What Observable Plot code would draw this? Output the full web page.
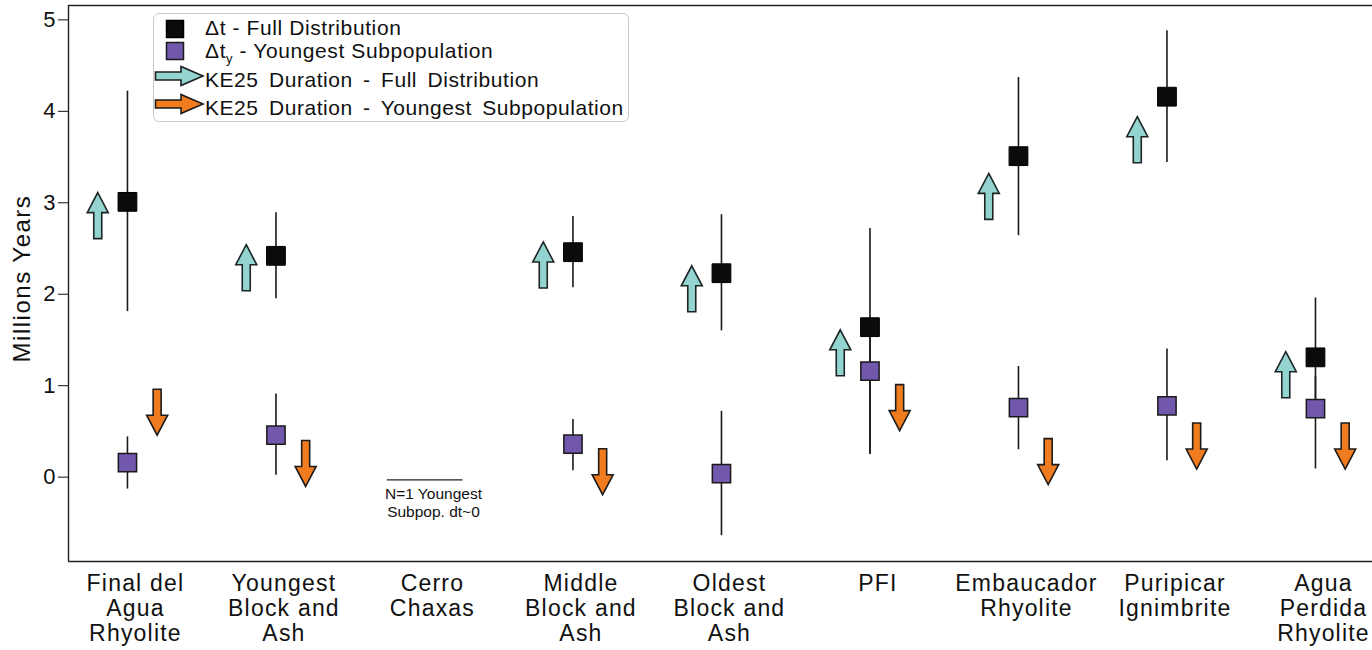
<!DOCTYPE html>
<html>
<head>
<meta charset="utf-8">
<script src="https://cdn.jsdelivr.net/npm/d3@7"></script>
<script src="https://cdn.jsdelivr.net/npm/@observablehq/plot@0.6"></script>
<style>
  html, body { margin: 0; padding: 0; background: #fff; }
  body { font-family: "Liberation Sans", Arial, sans-serif; }
  #wrap { position: relative; width: 1372px; height: 650px; overflow: hidden; }
  #legend { position: absolute; left: 153px; top: 13px; width: 476px; height: 109px;
            border: 1.5px solid #c9c9c9; border-radius: 6px; background: #fff; box-sizing: border-box; }
  #legend .ic { position: absolute; }
  #legend .tx { position: absolute; left: 51px; font-size: 21px; line-height: 21px; white-space: nowrap;
                color: #111; letter-spacing: 0.6px; }
  #legend .wide { word-spacing: 4px; letter-spacing: 0.55px; }
  #legend sub { font-size: 13px; vertical-align: -5px; line-height: 0; }
</style>
</head>
<body>
<div id="wrap">
  <div id="chart"></div>
  <div id="legend"></div>
</div>
<script>
// ---------------- data ----------------
const categories = ["Final del\nAgua\nRhyolite", "Youngest\nBlock and\nAsh", "Cerro\nChaxas",
  "Middle\nBlock and\nAsh", "Oldest\nBlock and\nAsh", "PFI", "Embaucador\nRhyolite",
  "Puripicar\nIgnimbrite", "Agua\nPerdida\nRhyolite"];
const fullDt    = [3.01, 2.42, null, 2.46, 2.23, 1.64, 3.51, 4.16, 1.31];
const fullLow   = [1.81, 1.95, null, 2.07, 1.60, 0.25, 2.64, 3.44, 0.66];
const fullHigh  = [4.22, 2.89, null, 2.85, 2.87, 2.72, 4.37, 4.88, 1.96];
const youngDt   = [0.16, 0.46, null, 0.36, 0.04, 1.16, 0.76, 0.78, 0.75];
const youngLow  = [-0.13, 0.02, null, 0.07, -0.64, 0.25, 0.30, 0.18, 0.09];
const youngHigh = [0.44, 0.91, null, 0.63, 0.72, 1.60, 1.21, 1.40, 1.10];
const ke25Full  = [2.86, 2.29, null, 2.32, 2.06, 1.36, 3.07, 3.69, 1.12];
const ke25Young = [0.71, 0.15, null, 0.06, null, 0.76, 0.17, 0.34, 0.34];
const singleGrain = [{category: 2, value: -0.03, note: "N=1 Youngest\nSubpop. dt~0"}];
const yTicks = [0, 1, 2, 3, 4, 5];
const yLabel = "Millions Years";
const legendLabels = ["Δt - Full Distribution", "Δt<sub>y</sub> - Youngest Subpopulation",
  "KE25 Duration - Full Distribution", "KE25 Duration - Youngest Subpopulation"];

// ---------------- styling / layout ----------------
const colFull = "#0b0b0b", colYoung = "#7258ad", colCyan = "#93d4d1", colOrange = "#f07c1f";
const xDomain = [-0.397, 8.384];
const yDomain = [-0.922, 5.157];
const idx = categories.map((_, i) => i);
const off = 0.2;

const upArrow = { draw(c) {
  c.moveTo(0, -23); c.lineTo(10.5, -3); c.lineTo(4, -3); c.lineTo(4, 23);
  c.lineTo(-4, 23); c.lineTo(-4, -3); c.lineTo(-10.5, -3); c.closePath(); } };
const downArrow = { draw(c) {
  c.moveTo(0, 23); c.lineTo(10.5, 3); c.lineTo(4, 3); c.lineTo(4, -23);
  c.lineTo(-4, -23); c.lineTo(-4, 3); c.lineTo(-10.5, 3); c.closePath(); } };

const errRows = [];
idx.forEach(i => {
  if (fullDt[i] != null) errRows.push({i, lo: fullLow[i], hi: fullHigh[i]});
  if (youngDt[i] != null) errRows.push({i, lo: youngLow[i], hi: youngHigh[i]});
});

const chart = Plot.plot({
  width: 1372, height: 650,
  marginLeft: 68, marginRight: 0, marginTop: 5, marginBottom: 89,
  style: {fontFamily: "'Liberation Sans', Arial, sans-serif", fontSize: "22px", color: "#111", background: "#fff", overflow: "visible"},
  x: {type: "linear", domain: xDomain, axis: null},
  y: {domain: yDomain, ticks: yTicks, tickSize: 10, tickPadding: 3, label: null, tickFormat: d => d},
  marks: [
    // frame (left, top, bottom)
    Plot.ruleX([xDomain[0]], {stroke: "#222", strokeWidth: 1.4}),
    Plot.ruleY([yDomain[0], yDomain[1]], {stroke: "#222", strokeWidth: 1.4}),
    // error bars
    Plot.ruleX(errRows, {x: "i", y1: "lo", y2: "hi", stroke: "#1a1a1a", strokeWidth: 1.6}),
    // KE25 arrows
    Plot.dot(idx, {x: i => i - off, y: i => ke25Full[i], symbol: upArrow, r: 10,
      fill: colCyan, stroke: "#1c2424", strokeWidth: 1.6, strokeLinejoin: "miter"}),
    Plot.dot(idx, {x: i => i + off, y: i => ke25Young[i], symbol: downArrow, r: 10,
      fill: colOrange, stroke: "#1c1c1c", strokeWidth: 1.6, strokeLinejoin: "miter"}),
    // squares
    Plot.dot(idx, {x: i => i, y: i => fullDt[i], symbol: "square", r: 10.6,
      fill: colFull, stroke: "#000", strokeWidth: 1}),
    Plot.dot(idx, {x: i => i, y: i => youngDt[i], symbol: "square", r: 10.3,
      fill: colYoung, stroke: "#1a1a1a", strokeWidth: 1.5}),
    // Cerro Chaxas single-grain annotation
    Plot.ruleY(singleGrain, {y: "value", x1: d => d.category - 0.25, x2: d => d.category + 0.26,
      stroke: "#222", strokeWidth: 1.4}),
    Plot.text(singleGrain, {x: "category", y: "value", text: "note", dx: 9, dy: 6,
      lineAnchor: "top", fontSize: 15.5, lineHeight: 1.17, fill: "#111"}),
    // category labels
    Plot.text(idx, {x: i => i, y: () => yDomain[0], text: i => categories[i], dx: 8, dy: 12,
      lineAnchor: "top", fontSize: 23, lineHeight: 1.09, fill: "#111"}),
    // y label
    Plot.text([yLabel], {frameAnchor: "left", textAnchor: "middle", dx: -46, dy: -5, rotate: -90, fontSize: 24, fill: "#111"})
  ]
});
document.getElementById("chart").appendChild(chart);

// letter spacing tweaks to match the figure's wide type
d3.select(chart).selectAll("text").each(function() {
  if (this.textContent === yLabel) this.setAttribute("letter-spacing", "1.5px");
});
d3.select(chart).selectAll("text").filter(function() {
  return categories.some(c => c.replace(/\n/g, "") === this.textContent);
}).attr("letter-spacing", "1.2px");

// ---------------- legend ----------------
const leg = document.getElementById("legend");
const iconSq = (fill, stroke) => `<svg width="20" height="20"><rect x="1.5" y="1.5" width="17" height="17" fill="${fill}" stroke="${stroke}" stroke-width="1.5"/></svg>`;
const iconArr = (fill) => `<svg width="52" height="22"><path d="M1.5,7 L27,7 L27,1.5 L49,11 L27,20.5 L27,15 L1.5,15 Z" fill="${fill}" stroke="#1c1c1c" stroke-width="1.6"/></svg>`;
const rows = [
  {icon: iconSq(colFull, "#000"), il: 11, it: 4.5, tt: 2.5, cls: ""},
  {icon: iconSq(colYoung, "#1a1a1a"), il: 11, it: 27, tt: 26, cls: ""},
  {icon: iconArr(colCyan), il: 0, it: 51, tt: 54.5, cls: "wide"},
  {icon: iconArr(colOrange), il: 0, it: 79, tt: 83, cls: "wide"}
];
rows.forEach((r, k) => {
  leg.insertAdjacentHTML("beforeend",
    `<div class="ic" style="left:${r.il}px;top:${r.it}px">${r.icon}</div>` +
    `<div class="tx ${r.cls}" style="top:${r.tt}px">${legendLabels[k]}</div>`);
});
</script>
</body>
</html>
